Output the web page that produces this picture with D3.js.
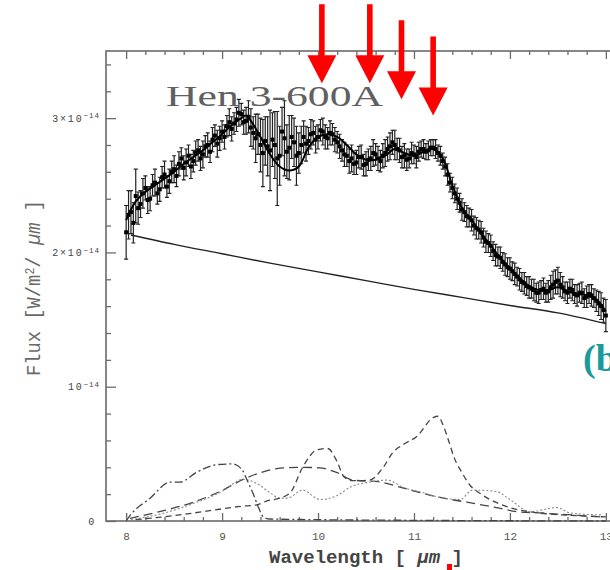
<!DOCTYPE html>
<html>
<head>
<meta charset="utf-8">
<script src="https://cdn.jsdelivr.net/npm/d3@7"></script>
<style>
  body { margin: 0; background: #fff; }
  svg { display: block; }
</style>
</head>
<body>
<svg id="chart" width="610" height="570"></svg>
<script>
// Mid-infrared spectrum of Hen 3-600A with dust-feature decomposition.
// Fluxes are in units of 1e-14 W/m^2/um.

// Observed spectrum: sampled every 0.025 um starting at 8.0 um
const waveStart = 8.0;
const waveStep = 0.025;
const fluxObs = [
  2.15, 2.28, 2.30, 2.22, 2.42, 2.33, 2.36, 2.44, 2.48, 2.39,
  2.40, 2.50, 2.52, 2.44, 2.47, 2.56, 2.58, 2.49, 2.53, 2.60,
  2.62, 2.57, 2.66, 2.70, 2.63, 2.67, 2.72, 2.64, 2.68, 2.74,
  2.76, 2.70, 2.73, 2.79, 2.80, 2.75, 2.84, 2.87, 2.81, 2.85,
  2.90, 2.86, 2.94, 2.97, 2.92, 2.96, 2.99, 3.04, 3.03, 2.97,
  2.98, 3.01, 2.93, 2.89, 2.85, 2.88, 2.80, 2.74, 2.83, 2.79,
  2.76, 2.84, 2.80, 2.70, 2.72, 2.90, 2.85, 2.75, 2.78, 2.86,
  2.82, 2.72, 2.74, 2.80, 2.86, 2.81, 2.83, 2.88, 2.89, 2.84,
  2.86, 2.91, 2.90, 2.86, 2.85, 2.89, 2.88, 2.84, 2.82, 2.79,
  2.76, 2.73, 2.72, 2.68, 2.70, 2.66, 2.67, 2.71, 2.71, 2.65,
  2.66, 2.69, 2.70, 2.74, 2.73, 2.70, 2.68, 2.72, 2.74, 2.77,
  2.79, 2.82, 2.80, 2.77, 2.76, 2.71, 2.72, 2.69, 2.70, 2.74,
  2.73, 2.71, 2.75, 2.77, 2.77, 2.75, 2.76, 2.78, 2.78, 2.77,
  2.74, 2.72, 2.68, 2.64, 2.58, 2.52, 2.48, 2.44, 2.40, 2.37,
  2.32, 2.30, 2.27, 2.26, 2.24, 2.20, 2.18, 2.17, 2.15, 2.11,
  2.08, 2.07, 2.05, 2.01, 1.98, 1.97, 1.96, 1.93, 1.91, 1.89,
  1.88, 1.86, 1.84, 1.82, 1.80, 1.78, 1.77, 1.75, 1.74, 1.73,
  1.72, 1.70, 1.70, 1.72, 1.73, 1.70, 1.71, 1.74, 1.76, 1.78,
  1.79, 1.76, 1.74, 1.71, 1.70, 1.73, 1.72, 1.69, 1.68, 1.70,
  1.70, 1.66, 1.67, 1.69, 1.68, 1.66, 1.64, 1.62, 1.60, 1.57,
  1.53
];
const fluxErr = [
  0.20, 0.18, 0.16, 0.15, 0.20, 0.12, 0.10, 0.11, 0.09, 0.10,
  0.09, 0.08, 0.10, 0.08, 0.09, 0.08, 0.10, 0.08, 0.09, 0.08,
  0.10, 0.08, 0.09, 0.08, 0.09, 0.10, 0.08, 0.09, 0.08, 0.09,
  0.08, 0.09, 0.10, 0.08, 0.09, 0.08, 0.09, 0.08, 0.10, 0.09,
  0.08, 0.09, 0.08, 0.10, 0.09, 0.08, 0.09, 0.10, 0.08, 0.09,
  0.10, 0.12, 0.14, 0.12, 0.18, 0.15, 0.20, 0.25, 0.18, 0.22,
  0.30, 0.20, 0.25, 0.35, 0.22, 0.18, 0.28, 0.20, 0.24, 0.16,
  0.18, 0.22, 0.15, 0.14, 0.12, 0.13, 0.10, 0.11, 0.09, 0.10,
  0.09, 0.08, 0.10, 0.09, 0.08, 0.09, 0.08, 0.09, 0.08, 0.09,
  0.08, 0.09, 0.08, 0.09, 0.10, 0.08, 0.09, 0.08, 0.09, 0.08,
  0.09, 0.08, 0.09, 0.10, 0.08, 0.09, 0.08, 0.09, 0.10, 0.09,
  0.10, 0.09, 0.11, 0.08, 0.09, 0.08, 0.09, 0.08, 0.07, 0.08,
  0.07, 0.08, 0.07, 0.06, 0.07, 0.06, 0.07, 0.06, 0.06, 0.07,
  0.06, 0.07, 0.06, 0.07, 0.08, 0.07, 0.08, 0.07, 0.08, 0.07,
  0.08, 0.07, 0.08, 0.07, 0.08, 0.07, 0.08, 0.07, 0.08, 0.07,
  0.08, 0.07, 0.08, 0.07, 0.08, 0.07, 0.08, 0.07, 0.08, 0.07,
  0.08, 0.07, 0.08, 0.07, 0.08, 0.07, 0.08, 0.07, 0.08, 0.07,
  0.08, 0.07, 0.08, 0.07, 0.08, 0.07, 0.08, 0.09, 0.10, 0.09,
  0.10, 0.09, 0.08, 0.07, 0.08, 0.07, 0.08, 0.07, 0.08, 0.07,
  0.08, 0.07, 0.08, 0.07, 0.08, 0.07, 0.08, 0.09, 0.10, 0.09,
  0.12
];

// Best-fit model through the spectrum
const fitWave = [8.0, 8.1, 8.2, 8.3, 8.4, 8.5, 8.6, 8.7, 8.8, 8.9, 9.0, 9.1, 9.2, 9.25, 9.3, 9.4, 9.5, 9.6, 9.7, 9.8, 9.9,
  10.0, 10.1, 10.2, 10.3, 10.4, 10.5, 10.6, 10.7, 10.8, 10.9, 11.0, 11.1, 11.2, 11.3, 11.4, 11.5, 11.6, 11.7, 11.8, 11.9,
  12.0, 12.1, 12.2, 12.3, 12.4, 12.5, 12.6, 12.7, 12.8, 12.9, 13.0];
const fitFlux = [2.24, 2.38, 2.45, 2.50, 2.55, 2.60, 2.66, 2.71, 2.76, 2.82, 2.88, 2.95, 3.00, 3.02, 2.98, 2.86, 2.73, 2.64, 2.61, 2.64, 2.78,
  2.86, 2.88, 2.86, 2.80, 2.73, 2.69, 2.69, 2.72, 2.77, 2.74, 2.72, 2.75, 2.77, 2.70, 2.50, 2.33, 2.24, 2.14, 2.05, 1.96,
  1.88, 1.81, 1.75, 1.72, 1.72, 1.74, 1.71, 1.69, 1.68, 1.65, 1.56];

// Underlying continuum
const contWave = [8.05, 8.5, 9.0, 9.5, 10.0, 10.5, 11.0, 11.5, 12.0, 12.5, 13.0];
const contFlux = [2.13, 2.06, 1.99, 1.92, 1.855, 1.79, 1.725, 1.665, 1.605, 1.55, 1.47];

// Dust-feature components [wavelength, flux]
const featureA = [[8.0, 0.0], [8.04, 0.04], [8.25, 0.17], [8.46, 0.29], [8.56, 0.29], [8.74, 0.365], [8.95, 0.42],
  [9.11, 0.425], [9.21, 0.38], [9.26, 0.305], [9.32, 0.21], [9.38, 0.10], [9.43, 0.03], [9.5, 0.015], [10.0, 0.01], [11.0, 0.005], [13.0, 0.0]];
const featureB = [[8.04, 0.02], [8.35, 0.07], [8.7, 0.14], [8.98, 0.22], [9.22, 0.31], [9.4, 0.36], [9.57, 0.39], [9.84, 0.40],
  [10.02, 0.395], [10.2, 0.36], [10.36, 0.305], [10.65, 0.29], [10.89, 0.245], [11.24, 0.18], [11.55, 0.14], [11.86, 0.10],
  [12.07, 0.07], [12.31, 0.06], [12.97, 0.03]];
const featureC = [[8.1, 0.01], [8.5, 0.04], [8.9, 0.08], [9.2, 0.11], [9.36, 0.12], [9.47, 0.15], [9.6, 0.17], [9.71, 0.21],
  [9.84, 0.40], [9.99, 0.53], [10.1, 0.54], [10.2, 0.44], [10.27, 0.33], [10.36, 0.30], [10.54, 0.305], [10.68, 0.40],
  [10.78, 0.51], [10.89, 0.57], [11.03, 0.63], [11.2, 0.77], [11.25, 0.78], [11.3, 0.72], [11.36, 0.60], [11.42, 0.47],
  [11.5, 0.36], [11.58, 0.27], [11.7, 0.20], [11.85, 0.14], [12.0, 0.10], [12.3, 0.06], [12.7, 0.04], [13.0, 0.03]];
const featureD = [[8.05, 0.01], [8.4, 0.06], [8.7, 0.13], [9.0, 0.22], [9.22, 0.31], [9.36, 0.28], [9.5, 0.21], [9.6, 0.17],
  [9.68, 0.17], [9.84, 0.23], [10.02, 0.16], [10.2, 0.19], [10.33, 0.25], [10.54, 0.29], [10.72, 0.305], [10.89, 0.25],
  [11.1, 0.21], [11.24, 0.18], [11.48, 0.16], [11.61, 0.23], [11.86, 0.22], [12.0, 0.16], [12.21, 0.07], [12.49, 0.10],
  [12.63, 0.06], [12.97, 0.045]];

// Marked emission features (wavelength, flux at arrow tip)
const arrowWave = [10.04, 10.54, 10.87, 11.2];
const arrowTipFlux = [3.26, 3.26, 3.14, 3.02];

// Axis ticks and labels
const xMajorTicks = [8, 9, 10, 11, 12, 13];
const xMinorTicks = [8.2, 8.4, 8.6, 8.8, 9.2, 9.4, 9.6, 9.8, 10.2, 10.4, 10.6, 10.8, 11.2, 11.4, 11.6, 11.8, 12.2, 12.4, 12.6, 12.8, 13.2];
const yMajorTicks = [0, 1, 2, 3];
const yMinorTicks = [0.2, 0.4, 0.6, 0.8, 1.2, 1.4, 1.6, 1.8, 2.2, 2.4, 2.6, 2.8, 3.2, 3.4];
const yTickBase = ["0", "10", "2\u00d710", "3\u00d710"];
const yTickExp = ["", "\u221214", "\u221214", "\u221214"];

const svg = d3.select("#chart");
const plot = { left: 106, right: 626, top: 51, bottom: 521 };

const x = d3.scaleLinear().domain([7.79, 13.21]).range([plot.left, plot.right]);
const y = d3.scaleLinear().domain([0, 3.5]).range([plot.bottom, plot.top]);

const axisColor = "#6a6a6a";

// Frame
svg.append("rect")
  .attr("x", plot.left).attr("y", plot.top)
  .attr("width", plot.right - plot.left).attr("height", plot.bottom - plot.top)
  .attr("fill", "none").attr("stroke", axisColor).attr("stroke-width", 1.6);

function styleAxis(g) {
  g.select(".domain").remove();
  g.selectAll(".tick line").attr("stroke", axisColor).attr("stroke-width", 1.3);
  g.selectAll(".tick text").attr("fill", "#555").attr("font-family", "Liberation Mono, monospace");
}

// Bottom axis
svg.append("g").attr("transform", `translate(0,${plot.bottom})`)
  .call(d3.axisBottom(x).tickValues(xMajorTicks).tickSize(-8).tickSizeOuter(0).tickPadding(11).tickFormat(d3.format("d")))
  .call(styleAxis)
  .call(g => g.selectAll(".tick text").attr("font-size", 11));
svg.append("g").attr("transform", `translate(0,${plot.bottom})`)
  .call(d3.axisBottom(x).tickValues(xMinorTicks).tickSize(-4).tickSizeOuter(0).tickFormat(""))
  .call(styleAxis);

// Top axis
svg.append("g").attr("transform", `translate(0,${plot.top})`)
  .call(d3.axisTop(x).tickValues(xMajorTicks).tickSize(-8).tickSizeOuter(0).tickFormat(""))
  .call(styleAxis);
svg.append("g").attr("transform", `translate(0,${plot.top})`)
  .call(d3.axisTop(x).tickValues(xMinorTicks).tickSize(-4).tickSizeOuter(0).tickFormat(""))
  .call(styleAxis);

// Left axis
const yAxisG = svg.append("g").attr("transform", `translate(${plot.left},0)`)
  .call(d3.axisLeft(y).tickValues(yMajorTicks).tickSize(-10).tickSizeOuter(0).tickPadding(8).tickFormat(""))
  .call(styleAxis);
svg.append("g").attr("transform", `translate(${plot.left},0)`)
  .call(d3.axisLeft(y).tickValues(yMinorTicks).tickSize(-5).tickSizeOuter(0).tickFormat(""))
  .call(styleAxis);

// Y tick labels with superscript exponents
yAxisG.selectAll(".tick").each(function (d, i) {
  const t = d3.select(this).append("text")
    .attr("x", i === 0 ? -10 : -6).attr("dy", "0.32em")
    .attr("text-anchor", "end")
    .attr("fill", "#444")
    .attr("font-family", "Liberation Mono, monospace")
    .attr("font-size", 10)
    .attr("letter-spacing", 1.8);
  t.append("tspan").text(yTickBase[i]);
  if (yTickExp[i]) {
    t.append("tspan").attr("font-size", 7.5).attr("dy", "-0.45em").attr("letter-spacing", 1).text(yTickExp[i]);
  }
});

// Title
svg.append("text")
  .attr("x", 166).attr("y", 106)
  .attr("font-family", "Liberation Serif, serif")
  .attr("font-size", 30)
  .attr("fill", "#606060")
  .attr("textLength", 217)
  .attr("lengthAdjust", "spacingAndGlyphs")
  .text("Hen 3-600A");

// Dust-feature component curves
const featLine = d3.line().x(d => x(d[0])).y(d => y(d[1])).curve(d3.curveMonotoneX);
const featureStyles = [
  { data: featureB, dash: "9,5", color: "#444", width: 1.3 },
  { data: featureD, dash: "2,2", color: "#8a8a8a", width: 1.1 },
  { data: featureC, dash: "6,4", color: "#444", width: 1.3 },
  { data: featureA, dash: "8,3,2,3", color: "#444", width: 1.3 }
];
featureStyles.forEach(s => {
  svg.append("path").datum(s.data)
    .attr("d", featLine)
    .attr("fill", "none")
    .attr("stroke", s.color)
    .attr("stroke-width", s.width)
    .attr("stroke-dasharray", s.dash);
});

// Continuum
const contLine = d3.line().x((d, i) => x(contWave[i])).y(d => y(d)).curve(d3.curveMonotoneX);
svg.append("path").datum(contFlux)
  .attr("d", contLine)
  .attr("fill", "none").attr("stroke", "#222").attr("stroke-width", 1.4);

// Observed spectrum with error bars
const obs = fluxObs.map((f, i) => ({ w: waveStart + i * waveStep, f: f, e: fluxErr[i] }));
const pts = svg.append("g");
pts.selectAll("line.err").data(obs).join("line")
  .attr("class", "err")
  .attr("x1", d => x(d.w)).attr("x2", d => x(d.w))
  .attr("y1", d => y(d.f - d.e)).attr("y2", d => y(d.f + d.e))
  .attr("stroke", "#222").attr("stroke-width", 1.2);
pts.selectAll("path.cap").data(obs).join("path")
  .attr("class", "cap")
  .attr("d", d => `M${x(d.w) - 2},${y(d.f + d.e)}h4M${x(d.w) - 2},${y(d.f - d.e)}h4`)
  .attr("stroke", "#222").attr("stroke-width", 1.1);
pts.selectAll("rect").data(obs).join("rect")
  .attr("x", d => x(d.w) - 2).attr("y", d => y(d.f) - 2)
  .attr("width", 4).attr("height", 4)
  .attr("fill", "#000");

// Best-fit model
const fitLine = d3.line().x((d, i) => x(fitWave[i])).y(d => y(d)).curve(d3.curveCatmullRom.alpha(0.5));
svg.append("path").datum(fitFlux)
  .attr("d", fitLine)
  .attr("fill", "none").attr("stroke", "#000").attr("stroke-width", 2);

// Axis titles
svg.append("text")
  .attr("x", 366).attr("y", 563)
  .attr("text-anchor", "middle")
  .attr("font-family", "Liberation Mono, monospace")
  .attr("font-weight", "bold")
  .attr("font-size", 19)
  .attr("fill", "#444")
  .call(t => {
    t.append("tspan").text("Wavelength [ ");
    t.append("tspan").attr("font-style", "italic").text("\u00b5m");
    t.append("tspan").text(" ]");
  });

svg.append("text")
  .attr("transform", "translate(40,288) rotate(-90)")
  .attr("text-anchor", "middle")
  .attr("font-family", "Liberation Mono, monospace")
  .attr("font-size", 21)
  .attr("fill", "#6a6a6a")
  .attr("textLength", 176)
  .attr("lengthAdjust", "spacingAndGlyphs")
  .call(t => {
    t.append("tspan").text("Flux [W/m");
    t.append("tspan").attr("font-size", 13).attr("dy", "-0.5em").text("2");
    t.append("tspan").attr("dy", "0.33em").text("/ ");
    t.append("tspan").attr("font-style", "italic").text("\u00b5m");
    t.append("tspan").text(" ]");
  });

// Red arrows marking the features
const arrowLen = 79, headLen = 28, headHalf = 14.5, shaftHalf = 2.8;
const arrows = svg.append("g").attr("fill", "#ff0000");
arrowWave.forEach((w, i) => {
  const ax = x(w), tip = y(arrowTipFlux[i]);
  arrows.append("path")
    .attr("d", `M${ax - shaftHalf},${tip - arrowLen}H${ax + shaftHalf}V${tip - headLen}H${ax + headHalf}L${ax},${tip}L${ax - headHalf},${tip - headLen}H${ax - shaftHalf}Z`);
});

// Panel label and marker at the figure edge
svg.append("text")
  .attr("x", 583).attr("y", 371)
  .attr("font-family", "Liberation Serif, serif")
  .attr("font-weight", "bold")
  .attr("font-size", 38)
  .attr("fill", "#1a9a9c")
  .text("(b)");
svg.append("rect").attr("x", 447).attr("y", 564).attr("width", 5).attr("height", 6).attr("fill", "#ff0000");
</script>
</body>
</html>
